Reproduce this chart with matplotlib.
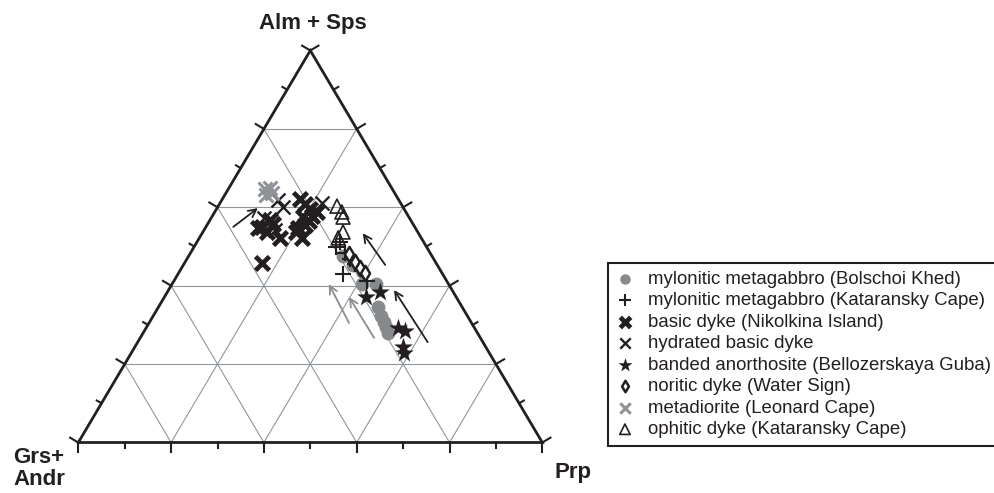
import numpy as np
import matplotlib
matplotlib.use("Agg")
import matplotlib.pyplot as plt

plt.rcParams['font.family'] = ['Liberation Sans', 'DejaVu Sans']

# garnet compositions, mol %: Alm+Sps and Prp (Grs+Andr is the remainder)
bolschoi_alm = [47.6, 45.3, 43.8, 40.4, 40.4, 34.6, 32.3, 30.7, 29.5, 27.9]
bolschoi_prp = [33.3, 36.6, 39.3, 40.9, 43.9, 47.3, 49.1, 50.5, 51.6, 52.8]

kataransky_alm = [49.9, 51.1, 48.3, 46.8, 45.5, 43.0, 41.2]
kataransky_prp = [30.6, 30.8, 33.3, 35.2, 36.9, 35.6, 41.6]

nikolkina_alm = [62.1, 60.8, 59.6, 58.8, 57.5, 57.8, 54.7, 55.5, 52.2, 53.7,
                 56.8, 54.7, 53.7, 55.7, 52.2, 55.0, 45.8, 56.5]
nikolkina_prp = [16.7, 18.4, 20.2, 22.0, 19.7, 21.5, 20.0, 21.1, 22.1, 20.1,
                 12.9, 11.4, 13.8, 14.1, 17.4, 12.1, 16.7, 21.5]

hydrated_alm = [61.1, 60.1, 61.9, 54.2, 57.3]
hydrated_prp = [22.0, 14.1, 12.1, 15.3, 11.4]

anorthosite_alm = [37.1, 38.4, 29.2, 28.4, 24.4, 22.8]
anorthosite_prp = [43.4, 45.8, 54.3, 56.2, 57.8, 58.8]

noritic_alm = [48.1, 46.0, 44.5, 43.2]
noritic_prp = [34.3, 36.6, 38.5, 40.2]

metadiorite_alm = [64.7, 64.9, 63.1, 63.6]
metadiorite_prp = [7.9, 8.9, 8.9, 9.9]

ophitic_alm = [60.3, 58.8, 57.5, 53.7, 52.2]
ophitic_prp = [25.6, 27.4, 28.3, 30.2, 29.9]

# zoning trends core -> rim: (alm_tail, prp_tail, alm_head, prp_head, colour)
trends = [
    (55.0, 5.9, 59.8, 8.8, '#231f20'),
    (45.3, 43.5, 53.4, 34.6, '#231f20'),
    (25.6, 62.5, 38.9, 48.6, '#231f20'),
    (30.5, 43.1, 40.4, 33.8, '#8a8d91'),
    (26.7, 50.4, 37.1, 39.8, '#8a8d91'),
]

DARK = '#231f20'
GRID = '#8f969c'


def tern(alm, prp):
    """ Convert Alm+Sps / Prp percentages into plot coordinates """
    a = np.asarray(alm, dtype=float) / 100.0
    p = np.asarray(prp, dtype=float) / 100.0
    return p + a / 2.0, a


fig = plt.figure(figsize=(9.94, 4.93), dpi=100)
W, H = 464.0, 392.0
ax = fig.add_axes([78.3 / 994, 50.5 / 493, W / 994, H / 493])
ax.set_xlim(0, 1)
ax.set_ylim(0, 1)
ax.axis('off')

# grid every 20 %
for c in [0.2, 0.4, 0.6, 0.8]:
    ax.plot([c / 2, 1 - c / 2], [c, c], color=GRID, lw=0.8, zorder=1)
    ax.plot([c, c + (1 - c) / 2], [0, 1 - c], color=GRID, lw=0.8, zorder=1)
    ax.plot([1 - c, (1 - c) / 2], [0, 1 - c], color=GRID, lw=0.8, zorder=1)

# frame
ax.plot([0, 1, 0.5, 0], [0, 0, 1, 0], color=DARK, lw=2.0, zorder=2,
        solid_joinstyle='miter', clip_on=False)

# ticks every 10 %, longer at 20 %
nx, ny = 0.861, 0.509
for k in range(11):
    t = k / 10.0
    L = 9.5 if k % 2 == 0 else 5.5
    ax.plot([t, t], [0, -L / H], color=DARK, lw=1.5, clip_on=False)
    ax.plot([t / 2, t / 2 - nx * L / W], [t, t + ny * L / H],
            color=DARK, lw=1.5, clip_on=False)
    ax.plot([1 - t / 2, 1 - t / 2 + nx * L / W], [t, t + ny * L / H],
            color=DARK, lw=1.5, clip_on=False)

for a0, p0, a1, p1, col in trends:
    x0, y0 = tern(a0, p0)
    x1, y1 = tern(a1, p1)
    ax.annotate('', xy=(x1, y1), xytext=(x0, y0),
                arrowprops=dict(arrowstyle='->', color=col, lw=1.3,
                                mutation_scale=14, shrinkA=0, shrinkB=0),
                zorder=3)

x, y = tern(bolschoi_alm, bolschoi_prp)
ax.scatter(x, y, s=100, marker='o', color='#868a8d', lw=0, zorder=4,
           label='mylonitic metagabbro (Bolschoi Khed)')
x, y = tern(kataransky_alm, kataransky_prp)
ax.scatter(x, y, s=120, marker='+', color=DARK, lw=1.5, zorder=5,
           label='mylonitic metagabbro (Kataransky Cape)')
x, y = tern(nikolkina_alm, nikolkina_prp)
ax.scatter(x, y, s=100, marker='x', color=DARK, lw=3.4, zorder=5,
           label='basic dyke (Nikolkina Island)')
x, y = tern(hydrated_alm, hydrated_prp)
ax.scatter(x, y, s=100, marker='x', color=DARK, lw=1.7, zorder=5,
           label='hydrated basic dyke')
x, y = tern(anorthosite_alm, anorthosite_prp)
ax.scatter(x, y, s=200, marker='*', color=DARK, lw=0, zorder=5,
           label='banded anorthosite (Bellozerskaya Guba)')
x, y = tern(noritic_alm, noritic_prp)
ax.scatter(x, y, s=60, marker='d', facecolor='white', edgecolor=DARK,
           lw=1.8, zorder=6, label='noritic dyke (Water Sign)')
x, y = tern(metadiorite_alm, metadiorite_prp)
ax.scatter(x, y, s=100, marker='x', color='#8f9297', lw=2.2, zorder=5,
           label='metadiorite (Leonard Cape)')
x, y = tern(ophitic_alm, ophitic_prp)
ax.scatter(x, y, s=100, marker='^', facecolor='none', edgecolor=DARK,
           lw=1.2, zorder=5, label='ophitic dyke (Kataransky Cape)')

# apex labels
lab = dict(fontsize=16, fontweight='bold', color=DARK, va='baseline')
fig.text(313 / 994, 1 - 29 / 493, 'Alm + Sps', ha='center', **lab)
fig.text(13 / 994, 1 - 463 / 493, 'Grs+', ha='left', **lab)
fig.text(13 / 994, 1 - 485 / 493, 'Andr', ha='left', **lab)
fig.text(555 / 994, 1 - 478 / 493, 'Prp', ha='left', **lab)

leg = fig.legend(loc='upper left', bbox_to_anchor=(608 / 994, 1 - 263 / 493),
                 borderaxespad=0, fontsize=13.4, frameon=True, fancybox=False,
                 framealpha=1, edgecolor=DARK, labelspacing=0.24,
                 handlelength=1.0, handletextpad=0.74, borderpad=0.41,
                 scatterpoints=1, markerscale=0.75)
leg.get_frame().set_linewidth(1.5)
for t in leg.get_texts():
    t.set_color(DARK)

fig.savefig('out.png', dpi=100)
